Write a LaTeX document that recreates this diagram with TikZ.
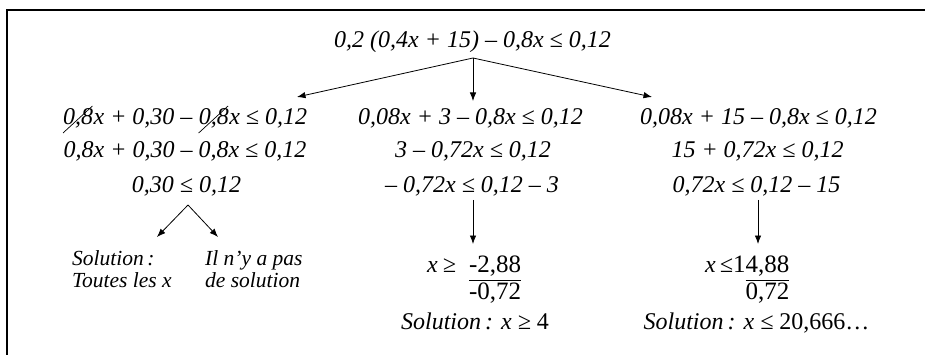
\documentclass[tikz,border=0pt]{standalone}
\usepackage{fontspec}
\setmainfont{Liberation Serif}[WordSpace=1.0]
\usetikzlibrary{arrows.meta,calc}
\newcommand\upnum{\fontsize{25}{27}\selectfont\upshape}
\begin{document}
\begin{tikzpicture}[x=1pt,y=-1pt,
  eq/.style={inner sep=0pt, anchor=base, font=\fontsize{24}{27}\selectfont\itshape},
  eqtwo/.style={inner sep=0pt, anchor=base west, align=left, font=\fontsize{21.5}{22}\selectfont\itshape},
  piece/.style={eq, anchor=base west},
  arr/.style={line width=0.8pt, -{Latex[length=8.5pt,width=6.5pt]}},
  strike/.style={line width=0.7pt},
  frame/.style={line width=2.2pt}]
\useasboundingbox (0,0) rectangle (925,355);
\draw[frame] (925,10) -- (7,10) -- (7,355);

% top
\node[eq] (top) at (472.5,48) {0,2 (0,4x + 15) – 0,8x ≤ 0,12};
\coordinate (s0) at (473,58);
\coordinate (tL) at (297,97);
\coordinate (tC) at (473,101);
\coordinate (tR) at (652,97);
\draw[arr] (s0) -- (tL);
\draw[arr] (s0) -- (tC);
\draw[arr] (s0) -- (tR);

% left column
\node[piece] (L1a) at (63,125) {0,8};
\node[piece] (L1b) at (L1a.base east) {x + 0,30 –\ \null};
\node[piece] (L1c) at (L1b.base east) {0,8};
\node[piece] (L1d) at (L1c.base east) {x ≤ 0,12};
\draw[strike] ($(L1a.base west)+(0,8)$) -- ($(L1a.base east)+(-1,-19)$);
\draw[strike] ($(L1c.base west)+(0,8)$) -- ($(L1c.base east)+(-1,-19)$);
\node[eq] (L2) at (185,158) {0,8x + 0,30 – 0,8x ≤ 0,12};
\node[eq] (L3) at (186.5,193) {0,30 ≤ 0,12};
\coordinate (sL) at (188,205);
\coordinate (tLa) at (157,237);
\coordinate (tLb) at (218,237);
\draw[arr] (sL) -- (tLa);
\draw[arr] (sL) -- (tLb);
\node[eqtwo] (LS) at (72,287) {Solution\,:\\Toutes les x};
\node[eqtwo] (LN) at (205,287) {Il n’y a pas\\de solution};

% centre column
\node[eq] (C1) at (470.5,125) {0,08x + 3 – 0,8x ≤ 0,12};
\node[eq] (C2) at (473,158) {3 – 0,72x ≤ 0,12};
\node[eq] (C3) at (472,193) {– 0,72x ≤ 0,12 – 3};
\coordinate (sC) at (473,200);
\coordinate (tC2) at (473,244);
\draw[arr] (sC) -- (tC2);
\node[eq, anchor=base west] (CF) at (427,272) {x\hspace{5pt}≥\hspace{13pt}\upnum\begin{tabular}[t]{@{}r@{}}-2,88\\\hline -0,72\end{tabular}};
\node[eq] (CS) at (475,329) {Solution\,: x ≥ \textup{4}};

% right column
\node[eq] (R1) at (758.5,125) {0,08x + 15 – 0,8x ≤ 0,12};
\node[eq] (R2) at (757.5,158) {15 + 0,72x ≤ 0,12};
\node[eq] (R3) at (756.5,193) {0,72x ≤ 0,12 – 15};
\coordinate (sR) at (758,200);
\coordinate (tR2) at (758,244);
\draw[arr] (sR) -- (tR2);
\node[eq, anchor=base west] (RF) at (705,272) {x\hspace{4pt}≤\upnum\begin{tabular}[t]{@{}r@{}r@{}}1&4,88\\\cline{2-2} &0,72\end{tabular}};
\node[eq] (RS) at (756.5,329) {Solution\,: x ≤ \textup{20,666…}};
\end{tikzpicture}
\end{document}
